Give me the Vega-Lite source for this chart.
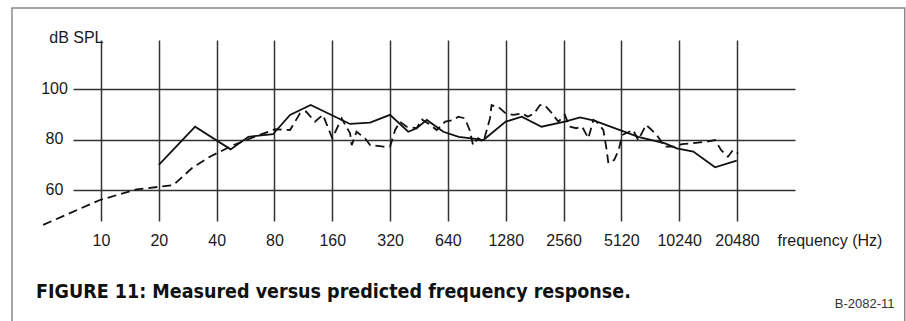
{
  "$schema": "https://vega.github.io/schema/vega-lite/v6.json",
  "width": 722,
  "height": 181,
  "autosize": {"type": "none"},
  "padding": {"left": 73, "top": 40, "right": 111, "bottom": 100},
  "background": "white",
  "config": {"view": {"stroke": null}, "font": "Liberation Sans"},
  "title": {
    "text": "FIGURE 11: Measured versus predicted frequency response.",
    "orient": "bottom",
    "anchor": "start",
    "frame": "group",
    "dx": -37,
    "offset": -31,
    "baseline": "alphabetic",
    "font": "DejaVu Sans Condensed, Liberation Sans",
    "fontSize": 19.5,
    "fontWeight": "bold",
    "color": "#111111"
  },
  "data": {
    "values": [
      {"curve": "solid", "freq": 20, "db": 70.0},
      {"curve": "solid", "freq": 30.9, "db": 85.2},
      {"curve": "solid", "freq": 47.3, "db": 76.2},
      {"curve": "solid", "freq": 58.5, "db": 81.2},
      {"curve": "solid", "freq": 78.6, "db": 82.2},
      {"curve": "solid", "freq": 96.4, "db": 89.9},
      {"curve": "solid", "freq": 123.5, "db": 93.8},
      {"curve": "solid", "freq": 198, "db": 86.3},
      {"curve": "solid", "freq": 251.5, "db": 86.8},
      {"curve": "solid", "freq": 319.6, "db": 89.9},
      {"curve": "solid", "freq": 398, "db": 83.2},
      {"curve": "solid", "freq": 440, "db": 84.6},
      {"curve": "solid", "freq": 497, "db": 87.9},
      {"curve": "solid", "freq": 606, "db": 83.2},
      {"curve": "solid", "freq": 728, "db": 81.2},
      {"curve": "solid", "freq": 850, "db": 80.6},
      {"curve": "solid", "freq": 980, "db": 79.9},
      {"curve": "solid", "freq": 1280, "db": 87.2},
      {"curve": "solid", "freq": 1551, "db": 89.2},
      {"curve": "solid", "freq": 1965, "db": 85.2},
      {"curve": "solid", "freq": 2600, "db": 87.2},
      {"curve": "solid", "freq": 3120, "db": 88.9},
      {"curve": "solid", "freq": 3700, "db": 87.6},
      {"curve": "solid", "freq": 6270, "db": 81.2},
      {"curve": "solid", "freq": 8645, "db": 78.6},
      {"curve": "solid", "freq": 9945, "db": 76.6},
      {"curve": "solid", "freq": 12130, "db": 75.3},
      {"curve": "solid", "freq": 15740, "db": 69.1},
      {"curve": "solid", "freq": 20410, "db": 71.7},
      {"curve": "dashed", "freq": 5.0, "db": 46.2},
      {"curve": "dashed", "freq": 9.88, "db": 56.1},
      {"curve": "dashed", "freq": 15.3, "db": 60.3},
      {"curve": "dashed", "freq": 23.8, "db": 62.0},
      {"curve": "dashed", "freq": 29.7, "db": 68.7},
      {"curve": "dashed", "freq": 36.9, "db": 73.3},
      {"curve": "dashed", "freq": 48.9, "db": 77.9},
      {"curve": "dashed", "freq": 62.2, "db": 81.0},
      {"curve": "dashed", "freq": 80.6, "db": 84.2},
      {"curve": "dashed", "freq": 96.4, "db": 83.9},
      {"curve": "dashed", "freq": 108.7, "db": 90.5},
      {"curve": "dashed", "freq": 117, "db": 91.2},
      {"curve": "dashed", "freq": 130, "db": 87.2},
      {"curve": "dashed", "freq": 143, "db": 89.9},
      {"curve": "dashed", "freq": 160, "db": 80.6},
      {"curve": "dashed", "freq": 179, "db": 88.5},
      {"curve": "dashed", "freq": 198, "db": 82.6},
      {"curve": "dashed", "freq": 202, "db": 77.9},
      {"curve": "dashed", "freq": 214, "db": 83.2},
      {"curve": "dashed", "freq": 237, "db": 80.6},
      {"curve": "dashed", "freq": 252, "db": 77.9},
      {"curve": "dashed", "freq": 295, "db": 77.3},
      {"curve": "dashed", "freq": 320, "db": 77.3},
      {"curve": "dashed", "freq": 340, "db": 83.9},
      {"curve": "dashed", "freq": 360, "db": 87.2},
      {"curve": "dashed", "freq": 390, "db": 85.2},
      {"curve": "dashed", "freq": 440, "db": 84.6},
      {"curve": "dashed", "freq": 469, "db": 88.1},
      {"curve": "dashed", "freq": 505, "db": 86.5},
      {"curve": "dashed", "freq": 560, "db": 83.9},
      {"curve": "dashed", "freq": 620, "db": 87.2},
      {"curve": "dashed", "freq": 683, "db": 87.9},
      {"curve": "dashed", "freq": 725, "db": 89.2},
      {"curve": "dashed", "freq": 785, "db": 88.5},
      {"curve": "dashed", "freq": 830, "db": 83.9},
      {"curve": "dashed", "freq": 865, "db": 77.9},
      {"curve": "dashed", "freq": 920, "db": 80.6},
      {"curve": "dashed", "freq": 980, "db": 79.2},
      {"curve": "dashed", "freq": 1060, "db": 88.5},
      {"curve": "dashed", "freq": 1080, "db": 93.8},
      {"curve": "dashed", "freq": 1170, "db": 93.1},
      {"curve": "dashed", "freq": 1280, "db": 90.5},
      {"curve": "dashed", "freq": 1405, "db": 89.9},
      {"curve": "dashed", "freq": 1550, "db": 90.5},
      {"curve": "dashed", "freq": 1670, "db": 89.2},
      {"curve": "dashed", "freq": 1800, "db": 90.5},
      {"curve": "dashed", "freq": 1930, "db": 93.8},
      {"curve": "dashed", "freq": 2040, "db": 93.8},
      {"curve": "dashed", "freq": 2230, "db": 90.5},
      {"curve": "dashed", "freq": 2405, "db": 87.2},
      {"curve": "dashed", "freq": 2600, "db": 89.9},
      {"curve": "dashed", "freq": 2750, "db": 85.2},
      {"curve": "dashed", "freq": 2980, "db": 84.6},
      {"curve": "dashed", "freq": 3200, "db": 85.2},
      {"curve": "dashed", "freq": 3445, "db": 80.6},
      {"curve": "dashed", "freq": 3660, "db": 87.9},
      {"curve": "dashed", "freq": 3800, "db": 87.2},
      {"curve": "dashed", "freq": 4125, "db": 83.9},
      {"curve": "dashed", "freq": 4295, "db": 75.9},
      {"curve": "dashed", "freq": 4380, "db": 70.7},
      {"curve": "dashed", "freq": 4700, "db": 72.0},
      {"curve": "dashed", "freq": 4960, "db": 76.0},
      {"curve": "dashed", "freq": 5170, "db": 81.9},
      {"curve": "dashed", "freq": 5890, "db": 83.9},
      {"curve": "dashed", "freq": 6270, "db": 79.9},
      {"curve": "dashed", "freq": 6880, "db": 85.9},
      {"curve": "dashed", "freq": 7200, "db": 84.6},
      {"curve": "dashed", "freq": 7820, "db": 81.9},
      {"curve": "dashed", "freq": 8620, "db": 77.3},
      {"curve": "dashed", "freq": 9670, "db": 77.3},
      {"curve": "dashed", "freq": 10610, "db": 78.3},
      {"curve": "dashed", "freq": 12500, "db": 78.8},
      {"curve": "dashed", "freq": 14160, "db": 79.2},
      {"curve": "dashed", "freq": 15740, "db": 79.9},
      {"curve": "dashed", "freq": 16940, "db": 75.9},
      {"curve": "dashed", "freq": 18370, "db": 73.3},
      {"curve": "dashed", "freq": 19500, "db": 75.9},
      {"curve": "dashed", "freq": 20770, "db": 74.6}
    ]
  },
  "resolve": {"axis": {"x": "independent", "y": "independent"}},
  "layer": [
    {
      "data": {"values": [{}]},
      "mark": {"type": "rect", "fillOpacity": 0, "stroke": "#8a8a8a", "strokeWidth": 1.5},
      "encoding": {
        "x": {"datum": 3.44, "type": "quantitative", "scale": {"type": "log", "base": 2, "domain": [7.149, 41045], "nice": false}, "axis": null},
        "x2": {"datum": 153000},
        "y": {"datum": 132.35, "type": "quantitative", "scale": {"domain": [47.75, 119.64], "nice": false, "zero": false}, "axis": null},
        "y2": {"datum": 5}
      }
    },
    {
      "transform": [{"filter": "datum.curve === 'solid'"}],
      "mark": {"type": "line", "color": "#111111", "strokeWidth": 1.8},
      "encoding": {
        "x": {
          "field": "freq", "type": "quantitative",
          "scale": {"type": "log", "base": 2, "domain": [7.149, 41045], "nice": false},
          "axis": {
            "orient": "bottom",
            "values": [10, 20, 40, 80, 160, 320, 640, 1280, 2560, 5120, 10240, 20480],
            "format": "d", "grid": true, "gridColor": "#333333", "gridWidth": 1.5, "gridOpacity": 1,
            "ticks": false, "tickSize": 0, "domain": false,
            "labelPadding": 24, "labelBaseline": "alphabetic", "labelFontSize": 16, "labelColor": "#1a1a1a",
            "labelFlush": false, "labelOverlap": false,
            "title": "frequency (Hz)", "titleX": 704, "titleY": 24, "titleAlign": "left",
            "titleBaseline": "alphabetic", "titleFontSize": 16, "titleFontWeight": "normal", "titleColor": "#1a1a1a"
          }
        },
        "y": {
          "field": "db", "type": "quantitative",
          "scale": {"domain": [47.75, 119.64], "nice": false, "zero": false},
          "axis": {
            "orient": "left", "values": [60, 80, 100],
            "grid": true, "gridColor": "#333333", "gridWidth": 1.5, "gridOpacity": 1,
            "ticks": false, "tickSize": 0, "domain": false,
            "labelAlign": "center", "labelPadding": 19, "labelBaseline": "alphabetic", "labelOffset": 4,
            "labelFontSize": 16, "labelColor": "#1a1a1a", "labelFlush": false, "labelOverlap": false,
            "title": "dB SPL", "titleAngle": 0, "titleX": 30, "titleY": 2, "titleAlign": "right",
            "titleBaseline": "alphabetic", "titleFontSize": 16, "titleFontWeight": "normal", "titleColor": "#1a1a1a"
          }
        }
      }
    },
    {
      "transform": [{"filter": "datum.curve === 'dashed'"}],
      "mark": {"type": "line", "color": "#111111", "strokeWidth": 1.8, "strokeDash": [9, 5]},
      "encoding": {
        "x": {
          "field": "freq", "type": "quantitative",
          "scale": {"type": "log", "base": 2, "domain": [7.149, 41045], "nice": false},
          "axis": null
        },
        "y": {
          "field": "db", "type": "quantitative",
          "scale": {"domain": [47.75, 119.64], "nice": false, "zero": false},
          "axis": {
            "orient": "right", "labels": false, "ticks": false, "domain": false, "grid": false,
            "title": "B-2082-11", "titleAngle": 0, "titleX": 99, "titleY": 267, "titleAlign": "right",
            "titleBaseline": "alphabetic", "titleFont": "Liberation Sans",
            "titleFontSize": 13, "titleFontWeight": "normal", "titleColor": "#333333"
          }
        }
      }
    }
  ]
}
